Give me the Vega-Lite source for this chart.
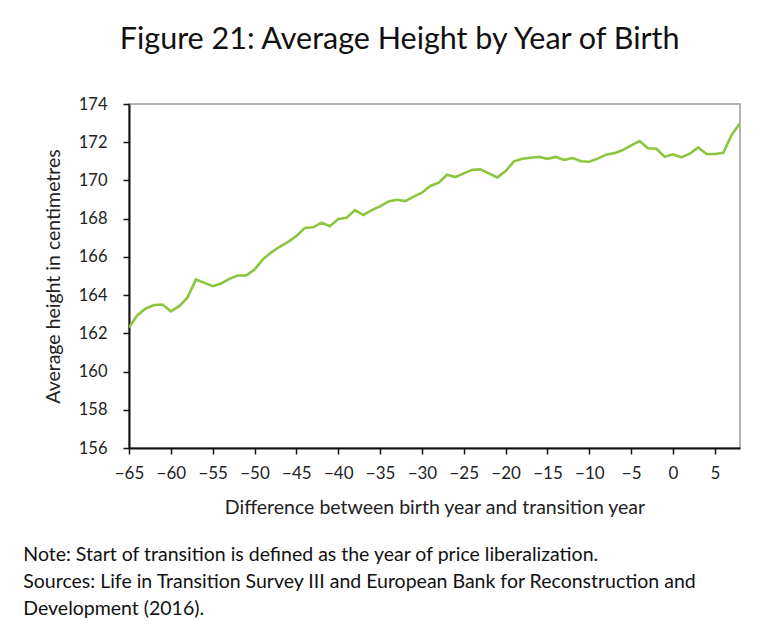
{
  "$schema": "https://vega.github.io/schema/vega-lite/v6.json",
  "padding": {"left": 22, "right": 26, "top": 24, "bottom": 10},
  "background": "white",
  "title": {
    "text": "Figure 21: Average Height by Year of Birth",
    "font": "Lato",
    "fontSize": 30.5,
    "fontWeight": "normal",
    "color": "#111111",
    "anchor": "middle",
    "dx": 18,
    "offset": 40
  },
  "config": {
    "font": "Lato",
    "view": {"stroke": "#9a9a9a", "strokeWidth": 1.5},
    "axis": {
      "labelFont": "Lato",
      "titleFont": "Lato",
      "labelFontSize": 16.5,
      "titleFontSize": 19.5,
      "titleFontWeight": "normal",
      "labelColor": "#222222",
      "titleColor": "#222222",
      "domainColor": "#111111",
      "domainWidth": 2,
      "tickColor": "#111111",
      "tickWidth": 1.5,
      "tickSize": 6,
      "grid": false
    }
  },
  "vconcat": [
    {
      "width": 611,
      "height": 344,
      "title": {
        "text": [
          "Note: Start of transition is defined as the year of price liberalization.",
          "Sources: Life in Transition Survey III and European Bank for Reconstruction and",
          "Development (2016)."
        ],
        "orient": "bottom",
        "anchor": "start",
        "font": "Lato",
        "fontSize": 19.5,
        "fontWeight": "normal",
        "color": "#111111",
        "lineHeight": 27,
        "dx": -20,
        "offset": 29
      },
      "data": {
        "values": [
          {"year": -65, "height": 162.31},
          {"year": -64, "height": 162.95},
          {"year": -63, "height": 163.3},
          {"year": -62, "height": 163.48},
          {"year": -61, "height": 163.51},
          {"year": -60, "height": 163.15},
          {"year": -59, "height": 163.42},
          {"year": -58, "height": 163.88},
          {"year": -57, "height": 164.82},
          {"year": -56, "height": 164.64},
          {"year": -55, "height": 164.47},
          {"year": -54, "height": 164.61},
          {"year": -53, "height": 164.85},
          {"year": -52, "height": 165.03},
          {"year": -51, "height": 165.03},
          {"year": -50, "height": 165.34},
          {"year": -49, "height": 165.87},
          {"year": -48, "height": 166.24},
          {"year": -47, "height": 166.53},
          {"year": -46, "height": 166.79},
          {"year": -45, "height": 167.09},
          {"year": -44, "height": 167.51},
          {"year": -43, "height": 167.55},
          {"year": -42, "height": 167.79},
          {"year": -41, "height": 167.6},
          {"year": -40, "height": 167.98},
          {"year": -39, "height": 168.05},
          {"year": -38, "height": 168.45},
          {"year": -37, "height": 168.19},
          {"year": -36, "height": 168.45},
          {"year": -35, "height": 168.64},
          {"year": -34, "height": 168.9},
          {"year": -33, "height": 168.99},
          {"year": -32, "height": 168.92},
          {"year": -31, "height": 169.15},
          {"year": -30, "height": 169.36},
          {"year": -29, "height": 169.71},
          {"year": -28, "height": 169.88},
          {"year": -27, "height": 170.3},
          {"year": -26, "height": 170.18},
          {"year": -25, "height": 170.37},
          {"year": -24, "height": 170.56},
          {"year": -23, "height": 170.58},
          {"year": -22, "height": 170.37},
          {"year": -21, "height": 170.16},
          {"year": -20, "height": 170.49},
          {"year": -19, "height": 171.0},
          {"year": -18, "height": 171.14},
          {"year": -17, "height": 171.19},
          {"year": -16, "height": 171.23},
          {"year": -15, "height": 171.13},
          {"year": -14, "height": 171.23},
          {"year": -13, "height": 171.07},
          {"year": -12, "height": 171.17},
          {"year": -11, "height": 171.0},
          {"year": -10, "height": 170.98},
          {"year": -9, "height": 171.14},
          {"year": -8, "height": 171.35},
          {"year": -7, "height": 171.43},
          {"year": -6, "height": 171.59},
          {"year": -5, "height": 171.84},
          {"year": -4, "height": 172.06},
          {"year": -3, "height": 171.68},
          {"year": -2, "height": 171.66},
          {"year": -1, "height": 171.24},
          {"year": 0, "height": 171.37},
          {"year": 1, "height": 171.21},
          {"year": 2, "height": 171.4},
          {"year": 3, "height": 171.73},
          {"year": 4, "height": 171.38},
          {"year": 5, "height": 171.38},
          {"year": 6, "height": 171.45},
          {"year": 7, "height": 172.38},
          {"year": 8, "height": 172.99}
        ]
      },
      "mark": {"type": "line", "color": "#8CC63F", "strokeWidth": 2.6, "clip": true},
      "encoding": {
        "x": {
          "field": "year",
          "type": "quantitative",
          "scale": {"domain": [-65, 8], "nice": false, "zero": false},
          "axis": {
            "title": "Difference between birth year and transition year",
            "values": [-65, -60, -55, -50, -45, -40, -35, -30, -25, -20, -15, -10, -5, 0, 5],
            "labelFontSize": 17,
            "labelOverlap": false,
            "labelFlush": false,
            "labelPadding": 11,
            "titlePadding": 17
          }
        },
        "y": {
          "field": "height",
          "type": "quantitative",
          "scale": {"domain": [156, 174], "nice": false, "zero": false},
          "axis": {
            "title": "Average height in centimetres",
            "values": [156, 158, 160, 162, 164, 166, 168, 170, 172, 174],
            "labelPadding": 16,
            "labelFlush": false,
            "titlePadding": 15
          }
        }
      }
    }
  ]
}
